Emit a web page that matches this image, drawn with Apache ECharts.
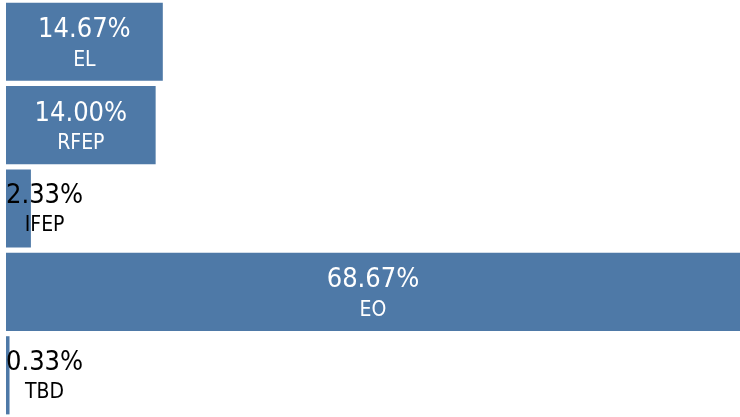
<!DOCTYPE html>
<html>
<head>
<meta charset="utf-8">
<script src="https://cdn.jsdelivr.net/npm/echarts@6/dist/echarts.min.js"></script>
<style>
html,body{margin:0;padding:0;background:#fff;}
#chart{width:740px;height:417px;}
</style>
</head>
<body>
<div id="chart"></div>
<script>
var categories = ['EL', 'RFEP', 'IFEP', 'EO', 'TBD'];
var values = [14.67, 14.00, 2.33, 68.67, 0.33];

var FONT = '"DejaVu Sans Condensed", "DejaVu Sans", sans-serif';
var chart = echarts.init(document.getElementById('chart'));

var data = values.map(function (v, i) {
  var small = v < 8;
  return {
    value: v,
    name: categories[i],
    label: small ? {
      position: 'insideLeft',
      distance: 0,
      offset: [0, 2],
      rich: {
        p: {color: '#000'},
        c: {color: '#000'}
      }
    } : {position: 'inside', offset: [0, 3]}
  };
});

chart.setOption({
  animation: false,
  grid: {left: 6, right: -2, top: -0.67, bottom: -4, containLabel: false},
  xAxis: {type: 'value', min: 0, max: 'dataMax', show: false},
  yAxis: {type: 'category', data: categories, inverse: true, show: false},
  series: [{
    type: 'bar',
    data: data,
    barCategoryGap: '6.3%',
    itemStyle: {color: '#4e79a7'},
    label: {
      show: true,
      formatter: function (p) {
        return '{p|' + p.value.toFixed(2) + '%}\n{c|' + p.name + '}';
      },
      rich: {
        p: {fontFamily: FONT, fontSize: 27, lineHeight: 31, color: '#fff', align: 'center'},
        c: {fontFamily: FONT, fontSize: 21, lineHeight: 29, color: '#fff', align: 'center'}
      }
    }
  }]
});
</script>
</body>
</html>
